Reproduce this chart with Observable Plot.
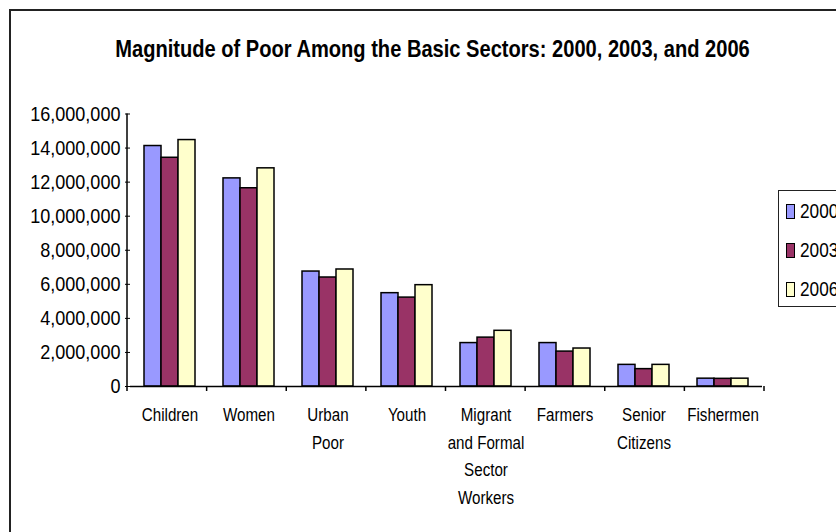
<!DOCTYPE html>
<html>
<head>
<meta charset="utf-8">
<script src="https://cdn.jsdelivr.net/npm/d3@7"></script>
<script src="https://cdn.jsdelivr.net/npm/@observablehq/plot@0.6"></script>
<style>
  html, body { margin: 0; padding: 0; background: #fff; }
  body { width: 836px; height: 532px; overflow: hidden; position: relative;
         font-family: "Liberation Sans", Arial, sans-serif; color: #000; }
  #frame { position: absolute; left: 9px; top: 9px; width: 900px; height: 600px;
           border: 2px solid #222; box-sizing: border-box; }
  #title { position: absolute; left: 0; top: 37px; width: 865px; text-align: center;
           font-weight: bold; font-size: 24.5px; line-height: 1; white-space: nowrap;
           transform: scaleX(0.82); transform-origin: 432.5px 0; }
  #chart { position: absolute; left: 0; top: 0; }
  #legend { position: absolute; left: 778px; top: 190px; width: 100px; height: 117px;
            border: 1.5px solid #222; box-sizing: border-box; background: #fff; }
  .item { position: absolute; left: 0; height: 24px; }
  .sw { position: absolute; left: 7px; top: 5px; width: 7px; height: 13px; border: 1px solid #000; }
  .lab { position: absolute; left: 21px; top: 0; font-size: 21px; line-height: 24px; white-space: nowrap;
         transform: scaleX(0.82); transform-origin: 0 0; }
</style>
</head>
<body>
<div id="frame"></div>
<div id="title">Magnitude of Poor Among the Basic Sectors: 2000, 2003, and 2006</div>
<div id="chart"></div>
<div id="legend"></div>
<script>
// ---- data ----
const sectors = ["Children", "Women", "Urban Poor", "Youth",
  "Migrant and Formal Sector Workers", "Farmers", "Senior Citizens", "Fishermen"];
const sectorLabels = ["Children", "Women", "Urban\nPoor", "Youth",
  "Migrant\nand Formal\nSector\nWorkers", "Farmers", "Senior\nCitizens", "Fishermen"];
const years = ["2000", "2003", "2006"];
const values2000 = [14120000, 12220000, 6750000, 5480000, 2550000, 2550000, 1270000, 460000];
const values2003 = [13430000, 11640000, 6400000, 5220000, 2870000, 2050000, 1020000, 450000];
const values2006 = [14470000, 12810000, 6870000, 5950000, 3270000, 2230000, 1270000, 460000];
const colors = ["#9999ff", "#993366", "#ffffcc"];
const yTicks = [0, 2000000, 4000000, 6000000, 8000000, 10000000, 12000000, 14000000, 16000000];

const series = [values2000, values2003, values2006];
const rows = sectors.flatMap((s, i) => years.map((yr, j) => ({sector: s, year: yr, value: series[j][i]})));

const W = 836, H = 532;
const chart = Plot.plot({
  width: W, height: H,
  marginLeft: 127, marginRight: 72, marginTop: 113.5, marginBottom: 146,
  style: {background: "transparent", color: "#000", overflow: "visible",
          fontFamily: '"Liberation Sans", Arial, sans-serif'},
  fx: {domain: sectors, padding: 0, label: null},
  x: {domain: years, paddingInner: 0, paddingOuter: 0.78, axis: null},
  y: {domain: [0, 16000000], axis: null},
  color: {domain: years, range: colors},
  marks: [
    Plot.barY(rows, {fx: "sector", x: "year", y: "value", fill: "year", stroke: "#000", strokeWidth: 1.5}),
    Plot.ruleY([0], {stroke: "#000", strokeWidth: 1.5}),
    Plot.axisY({ticks: yTicks, tickFormat: d3.format(","), tickSize: 5, tickPadding: 5,
                fontSize: 21, label: null, stroke: "#000"}),
    Plot.axisFx({anchor: "bottom", tickSize: 0, tickPadding: 15, fontSize: 18.5, lineHeight: 1.49,
                 label: null, tickFormat: d => sectorLabels[sectors.indexOf(d)]})
  ]
});
document.getElementById("chart").appendChild(chart);

// condensed look (narrow face): squeeze each label horizontally about its anchor
d3.select(chart).selectAll("text").each(function() {
  const t = d3.select(this);
  const x = +t.attr("x") || 0, y = +t.attr("y") || 0;
  const tr = t.attr("transform") || "";
  const isY = (this.closest("[aria-label]")?.getAttribute("aria-label") || "").startsWith("y-axis");
  const k = isY ? 0.86 : 0.82;
  t.attr("transform", `${tr} translate(${x},${y}) scale(${k},1) translate(${-x},${-y})`);
});

// Excel-style axis lines: vertical y-axis line and category boundary ticks, from Plot's scales
const fxS = chart.scale("fx"), yS = chart.scale("y");
const r0 = fxS.range[0], r1 = fxS.range[1];
const step = (r1 - r0) / fxS.domain.length;
const y0 = yS.apply(0), yTop = yS.apply(yTicks[yTicks.length - 1]);
const g = d3.select(chart).append("g").attr("stroke", "#000").attr("stroke-width", 1.5);
g.append("line").attr("x1", r0).attr("x2", r0).attr("y1", yTop).attr("y2", y0);
d3.range(fxS.domain.length + 1).forEach(i => {
  const x = r0 + i * step;
  g.append("line").attr("x1", x).attr("x2", x).attr("y1", y0).attr("y2", y0 + 5);
});

// legend
const legend = document.getElementById("legend");
years.forEach((yr, i) => {
  const item = document.createElement("div");
  item.className = "item";
  item.style.top = (8 + i * 39) + "px";
  const sw = document.createElement("div");
  sw.className = "sw";
  sw.style.background = colors[i];
  const lab = document.createElement("div");
  lab.className = "lab";
  lab.textContent = yr;
  item.appendChild(sw); item.appendChild(lab);
  legend.appendChild(item);
});
</script>
</body>
</html>
